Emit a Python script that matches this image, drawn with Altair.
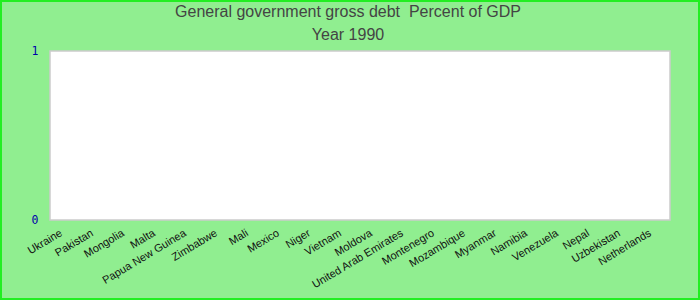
import altair as alt
import pandas as pd

countries = ["Ukraine", "Pakistan", "Mongolia", "Malta", "Papua New Guinea",
             "Zimbabwe", "Mali", "Mexico", "Niger", "Vietnam", "Moldova",
             "United Arab Emirates", "Montenegro", "Mozambique", "Myanmar",
             "Namibia", "Venezuela", "Nepal", "Uzbekistan", "Netherlands"]
values = [0] * len(countries)
y_ticks = [0, 1]
title_lines = ["General government gross debt \u00a0Percent of GDP", "Year 1990"]

df = pd.DataFrame({"country": countries, "value": values})

bars = alt.Chart(df).mark_bar(color="#3366cc").encode(
    x=alt.X("country:N", sort=countries, title=None,
            scale=alt.Scale(paddingInner=0.2, paddingOuter=0.1),
            axis=alt.Axis(labelAngle=-31, labelAlign="right", labelBaseline="middle",
                          labelFont="Liberation Sans", labelFontSize=11,
                          labelColor="#111111", labelPadding=12, ticks=False,
                          domain=False, labelOverlap=False, labelOffset=-4)),
    y=alt.Y("value:Q", title=None,
            scale=alt.Scale(domain=[0, 1], nice=False),
            axis=alt.Axis(values=y_ticks, grid=False, domain=False, ticks=False,
                          labelFont="DejaVu Sans Mono", labelFontSize=11.5,
                          labelColor="#0000aa", labelPadding=12, format="d")),
)

title1 = alt.Chart(pd.DataFrame({"t": [title_lines[0]]})).mark_text(
    font="Liberation Sans", fontSize=16, color="#444444", align="center",
    baseline="alphabetic"
).encode(text="t:N", x=alt.value(298), y=alt.value(-34))

title2 = alt.Chart(pd.DataFrame({"t": [title_lines[1]]})).mark_text(
    font="Liberation Sans", fontSize=16, color="#444444", align="center",
    baseline="alphabetic"
).encode(text="t:N", x=alt.value(298), y=alt.value(-11))

border = alt.Chart(df).mark_rect(filled=False, stroke="#22ee22", strokeWidth=2,
                                 clip=False).encode(
    x=alt.value(-49), x2=alt.value(649), y=alt.value(-50), y2=alt.value(248)
).transform_filter(alt.datum.country == countries[0])

chart = alt.layer(bars, title1, title2, border).properties(
    width=620, height=169,
    background="#90ee90",
    padding={"left": 50, "top": 51, "right": 30, "bottom": 80},
    autosize=alt.AutoSizeParams(type="none"),
).configure_view(fill="white", stroke="#cccccc", strokeWidth=1.5)

chart.save("out.html", embed_options={"renderer": "svg", "actions": False})
